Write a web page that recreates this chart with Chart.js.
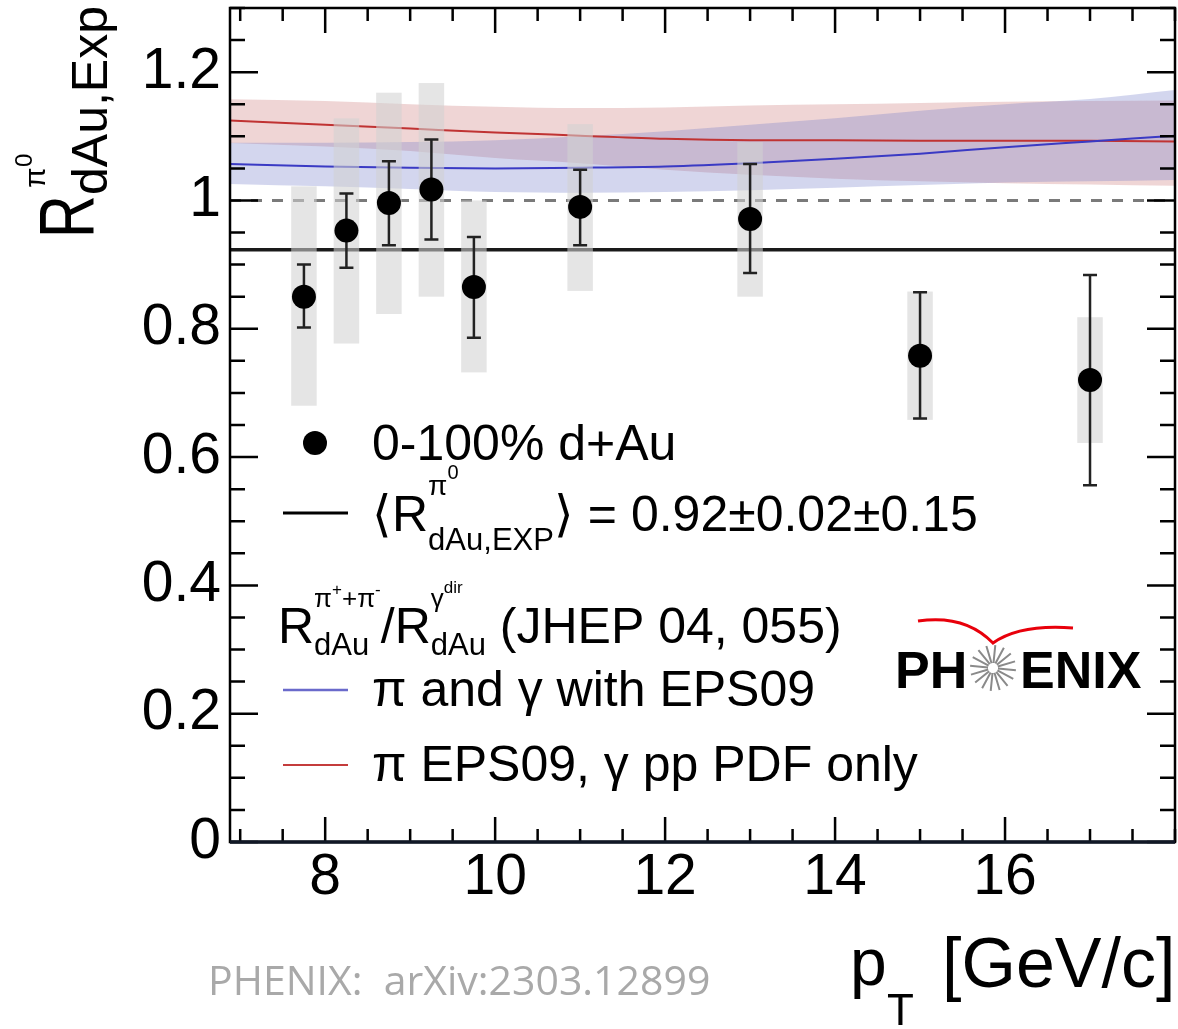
<!DOCTYPE html>
<html>
<head>
<meta charset="utf-8">
<script src="https://cdn.jsdelivr.net/npm/chart.js@4.4.1/dist/chart.umd.min.js"></script>
<style>
  body { margin: 0; background: #fff; }
  #wrap { width: 1178px; height: 1029px; }
</style>
</head>
<body>
<div id="wrap"><canvas id="myChart" width="1178" height="1029"></canvas></div>
<script>
// measured points, 0-100% d+Au
const ptX = [7.75, 8.25, 8.75, 9.25, 9.75, 11, 13, 15, 17];
const ptY = [0.850, 0.953, 0.996, 1.017, 0.865, 0.990, 0.971, 0.758, 0.720];
const statLo = [0.802, 0.895, 0.930, 0.939, 0.786, 0.930, 0.887, 0.660, 0.556];
const statHi = [0.900, 1.011, 1.061, 1.095, 0.943, 1.048, 1.057, 0.857, 0.884];
const sysLo = [0.680, 0.777, 0.823, 0.850, 0.732, 0.859, 0.850, 0.658, 0.622];
const sysHi = [1.022, 1.128, 1.168, 1.183, 1.000, 1.119, 1.091, 0.858, 0.818];
const sysHalfWidth = 0.15;

const meanR = 0.923;
const unity = 1.0;

// theory curves (JHEP 04, 055)
const thX     = [6.8, 8, 9, 10, 11, 12, 13, 14, 15, 16, 17, 18];
const blueMid = [1.057, 1.053, 1.051, 1.050, 1.051, 1.053, 1.058, 1.065, 1.073, 1.083, 1.092, 1.101];
const blueHi  = [1.090, 1.090, 1.091, 1.094, 1.100, 1.108, 1.118, 1.128, 1.140, 1.150, 1.158, 1.172];
const blueLo  = [1.026, 1.022, 1.018, 1.013, 1.012, 1.013, 1.016, 1.020, 1.024, 1.028, 1.030, 1.032];
const redMid  = [1.125, 1.118, 1.112, 1.106, 1.101, 1.096, 1.094, 1.094, 1.093, 1.093, 1.093, 1.092];
const redHi   = [1.158, 1.155, 1.150, 1.146, 1.144, 1.145, 1.148, 1.150, 1.152, 1.154, 1.155, 1.156];
const redLo   = [1.090, 1.084, 1.077, 1.066, 1.058, 1.048, 1.040, 1.034, 1.030, 1.027, 1.025, 1.023];

const xTicks = [8, 10, 12, 14, 16];
const yTicks = [0, 0.2, 0.4, 0.6, 0.8, 1, 1.2];
const xMin = 6.88, xMax = 18, yMin = 0, yMax = 1.3;

const FONT = '"Liberation Sans", Arial, sans-serif';

const pts = (xs, ys) => xs.map((x, i) => ({x: x, y: ys[i]}));

// draw pieces of text with sub/superscripts
function rich(ctx, x, y, parts) {
  let cx = x, mark = x, maxEnd = x;
  parts.forEach(p => {
    if (p.mark) mark = cx;
    if (p.reset) cx = mark;
    ctx.font = (p.b ? 'bold ' : '') + p.s + 'px ' + FONT;
    ctx.fillText(p.t, cx, y + (p.dy || 0));
    cx += ctx.measureText(p.t).width;
    maxEnd = Math.max(maxEnd, cx);
    if (p.end) cx = maxEnd;
  });
}

const noPad = s => { s.paddingTop = 0; s.paddingBottom = 0; s.paddingLeft = 0; s.paddingRight = 0; };

const decor = {
  id: 'decor',
  beforeDatasetDraw(chart, args) {
    if (args.index !== 0) return;
    const {ctx, scales: {x, y}} = chart;
    const a = chart.chartArea;
    ctx.save();
    ctx.beginPath();
    ctx.rect(a.left, a.top, a.right - a.left, a.bottom - a.top);
    ctx.clip();
    // systematic boxes
    ctx.fillStyle = 'rgba(209,209,209,0.57)';
    ptX.forEach((v, i) => {
      const x0 = x.getPixelForValue(v - sysHalfWidth);
      const x1 = x.getPixelForValue(v + sysHalfWidth);
      const y0 = y.getPixelForValue(sysHi[i]);
      const y1 = y.getPixelForValue(sysLo[i]);
      ctx.fillRect(x0, y0, x1 - x0, y1 - y0);
    });
    // stat error bars
    ctx.strokeStyle = '#222';
    ctx.lineWidth = 2.5;
    ptX.forEach((v, i) => {
      const px = x.getPixelForValue(v);
      const y0 = y.getPixelForValue(statHi[i]);
      const y1 = y.getPixelForValue(statLo[i]);
      ctx.beginPath();
      ctx.moveTo(px, y0); ctx.lineTo(px, y1);
      ctx.moveTo(px - 7, y0); ctx.lineTo(px + 7, y0);
      ctx.moveTo(px - 7, y1); ctx.lineTo(px + 7, y1);
      ctx.stroke();
    });
    ctx.restore();
  },
  afterDraw(chart) {
    const {ctx, scales: {x, y}} = chart;
    const a = chart.chartArea;
    ctx.save();
    ctx.strokeStyle = '#000';
    // inner ticks on all four sides
    ctx.lineWidth = 2.5;
    ctx.beginPath();
    for (let v = 7; v <= xMax; v += 0.5) {
      const px = x.getPixelForValue(v);
      const len = xTicks.includes(v) ? 25 : 13;
      ctx.moveTo(px, a.bottom); ctx.lineTo(px, a.bottom - len);
      ctx.moveTo(px, a.top); ctx.lineTo(px, a.top + len);
    }
    for (let k = 0; k * 0.05 <= yMax + 1e-9; k++) {
      const v = k * 0.05;
      const py = y.getPixelForValue(v);
      const len = (k % 4 === 0) ? 28 : 15;
      ctx.moveTo(a.left, py); ctx.lineTo(a.left + len, py);
      ctx.moveTo(a.right, py); ctx.lineTo(a.right - len, py);
    }
    ctx.stroke();
    // frame
    ctx.lineWidth = 2.5;
    ctx.strokeRect(a.left, a.top, a.right - a.left, a.bottom - a.top);
    ctx.lineWidth = 3.5;
    ctx.strokeStyle = '#111826';
    ctx.beginPath();
    ctx.moveTo(a.left, a.bottom); ctx.lineTo(a.right, a.bottom);
    ctx.stroke();

    // legend
    ctx.fillStyle = '#000';
    ctx.textBaseline = 'alphabetic';
    ctx.beginPath();
    ctx.arc(315, 443, 12, 0, Math.PI * 2);
    ctx.fill();
    ctx.font = '50px ' + FONT;
    ctx.fillText('0-100% d+Au', 372, 460);

    ctx.strokeStyle = '#000';
    ctx.lineWidth = 3;
    ctx.beginPath(); ctx.moveTo(283, 513); ctx.lineTo(348, 513); ctx.stroke();
    rich(ctx, 372, 531, [
      {t: '\u27E8', s: 50},
      {t: 'R', s: 50},
      {t: '\u03C0', s: 28, dy: -36, mark: true},
      {t: '0', s: 20, dy: -52},
      {t: 'dAu,EXP', s: 31, dy: 19, reset: true, end: true},
      {t: '\u27E9', s: 50},
      {t: ' = 0.92\u00B10.02\u00B10.15', s: 50}
    ]);

    rich(ctx, 278, 643, [
      {t: 'R', s: 50},
      {t: '\u03C0', s: 26, dy: -36, mark: true},
      {t: '+', s: 17, dy: -48},
      {t: '+', s: 26, dy: -36},
      {t: '\u03C0', s: 26, dy: -36},
      {t: '-', s: 17, dy: -48},
      {t: 'dAu', s: 31, dy: 12, reset: true, end: true},
      {t: '/', s: 50},
      {t: 'R', s: 50},
      {t: '\u03B3', s: 26, dy: -36, mark: true},
      {t: 'dir', s: 17, dy: -50},
      {t: 'dAu', s: 31, dy: 12, reset: true, end: true},
      {t: ' (JHEP 04, 055)', s: 50}
    ]);

    ctx.strokeStyle = '#6a6acb';
    ctx.lineWidth = 2.5;
    ctx.beginPath(); ctx.moveTo(283, 690); ctx.lineTo(348, 690); ctx.stroke();
    ctx.font = '50px ' + FONT;
    ctx.fillText('\u03C0 and \u03B3 with EPS09', 372, 706);
    ctx.strokeStyle = '#c43c3c';
    ctx.lineWidth = 2;
    ctx.beginPath(); ctx.moveTo(283, 765); ctx.lineTo(348, 765); ctx.stroke();
    ctx.fillText('\u03C0 EPS09, \u03B3 pp PDF only', 372, 781);

    // PHENIX logo
    ctx.font = 'bold 52px ' + FONT;
    ctx.fillText('PH', 895, 688);
    ctx.fillText('ENIX', 1020, 688);
    ctx.strokeStyle = '#8a8a8a';
    ctx.lineWidth = 2;
    ctx.beginPath();
    for (let k = 0; k < 16; k++) {
      const t = k * Math.PI / 8 + 0.1;
      ctx.moveTo(993 + 5 * Math.cos(t), 668 + 5 * Math.sin(t));
      ctx.lineTo(993 + 23 * Math.cos(t), 668 + 23 * Math.sin(t));
    }
    ctx.stroke();
    ctx.strokeStyle = '#e8000b';
    ctx.lineWidth = 3;
    ctx.beginPath();
    ctx.moveTo(918, 621);
    ctx.quadraticCurveTo(965, 614, 993, 643);
    ctx.quadraticCurveTo(1020, 624, 1073, 628);
    ctx.stroke();

    // x title
    ctx.fillStyle = '#000';
    ctx.font = '66px ' + FONT;
    ctx.fillText('p', 850, 985);
    ctx.font = '44px ' + FONT;
    ctx.fillText('T', 887, 1025);
    ctx.font = '70px ' + FONT;
    ctx.fillText('[GeV/c]', 942, 987);

    // y title (rotated)
    ctx.save();
    ctx.translate(93, 238);
    ctx.rotate(-Math.PI / 2);
    ctx.save();
    ctx.scale(0.77, 1);
    ctx.font = '77px ' + FONT;
    ctx.fillText('R', 0, 0);
    ctx.restore();
    ctx.font = '50px ' + FONT;
    ctx.fillText('dAu,Exp', 43, 14);
    ctx.font = '30px ' + FONT;
    ctx.fillText('\u03C0', 50, -48);
    ctx.font = '24px ' + FONT;
    ctx.fillText('0', 71, -61);
    ctx.restore();

    // caption
    ctx.fillStyle = '#a9a9a9';
    ctx.font = '41px "Open Sans", sans-serif';
    ctx.fillText('PHENIX:  arXiv:2303.12899', 208, 995);
    ctx.restore();
  }
};

const myChart = document.getElementById('myChart');

let chart = new Chart(myChart, {
  type: 'scatter',
  data: {
    datasets: [
      {
        label: '0-100% d+Au',
        data: pts(ptX, ptY),
        pointRadius: 12,
        pointBackgroundColor: '#000',
        pointBorderWidth: 0,
        showLine: false
      },
      {
        label: 'mean',
        data: [{x: xMin, y: meanR}, {x: xMax, y: meanR}],
        showLine: true, pointRadius: 0,
        borderColor: '#1a1a1a', borderWidth: 3.5
      },
      {
        label: 'unity',
        data: [{x: xMin, y: unity}, {x: xMax, y: unity}],
        showLine: true, pointRadius: 0,
        borderColor: '#7a7a7a', borderWidth: 3, borderDash: [11, 10]
      },
      {
        label: 'pi and gamma with EPS09',
        data: pts(thX, blueMid),
        showLine: true, pointRadius: 0, tension: 0.4, cubicInterpolationMode: 'monotone',
        borderColor: '#3a3ac4', borderWidth: 2
      },
      {
        label: 'pi EPS09, gamma pp PDF only',
        data: pts(thX, redMid),
        showLine: true, pointRadius: 0, tension: 0.4, cubicInterpolationMode: 'monotone',
        borderColor: '#c03333', borderWidth: 2
      },
      {
        label: 'blue hi',
        data: pts(thX, blueHi),
        showLine: true, pointRadius: 0, borderWidth: 0, tension: 0.4, cubicInterpolationMode: 'monotone',
        fill: '+1', backgroundColor: 'rgba(108,118,198,0.3)'
      },
      {
        label: 'blue lo',
        data: pts(thX, blueLo),
        showLine: true, pointRadius: 0, borderWidth: 0, tension: 0.4, cubicInterpolationMode: 'monotone'
      },
      {
        label: 'red hi',
        data: pts(thX, redHi),
        showLine: true, pointRadius: 0, borderWidth: 0, tension: 0.4, cubicInterpolationMode: 'monotone',
        fill: '+1', backgroundColor: 'rgba(202,115,115,0.3)'
      },
      {
        label: 'red lo',
        data: pts(thX, redLo),
        showLine: true, pointRadius: 0, borderWidth: 0, tension: 0.4, cubicInterpolationMode: 'monotone'
      }
    ]
  },
  options: {
    responsive: false,
    animation: false,
    events: [],
    layout: {autoPadding: false, padding: {top: 8, right: 3, left: 0, bottom: 0}},
    plugins: {legend: {display: false}, tooltip: {enabled: false}},
    scales: {
      x: {
        type: 'linear', min: xMin, max: xMax,
        afterBuildTicks: s => { s.ticks = xTicks.map(v => ({value: v})); },
        afterFit: s => { s.height = 187; noPad(s); },
        grid: {display: false, drawTicks: false},
        border: {display: false},
        ticks: {
          autoSkip: false, maxRotation: 0, padding: 2, color: '#000',
          font: {family: 'Liberation Sans', size: 57},
          callback: v => String(v)
        }
      },
      y: {
        min: yMin, max: yMax,
        afterBuildTicks: s => { s.ticks = yTicks.map(v => ({value: v})); },
        afterFit: s => { s.width = 230; noPad(s); },
        grid: {display: false, drawTicks: false},
        border: {display: false},
        ticks: {
          autoSkip: false, padding: 9, color: '#000',
          font: {family: 'Liberation Sans', size: 57},
          callback: v => String(Number(v.toFixed(1)))
        }
      }
    }
  },
  plugins: [decor]
});
</script>
</body>
</html>
